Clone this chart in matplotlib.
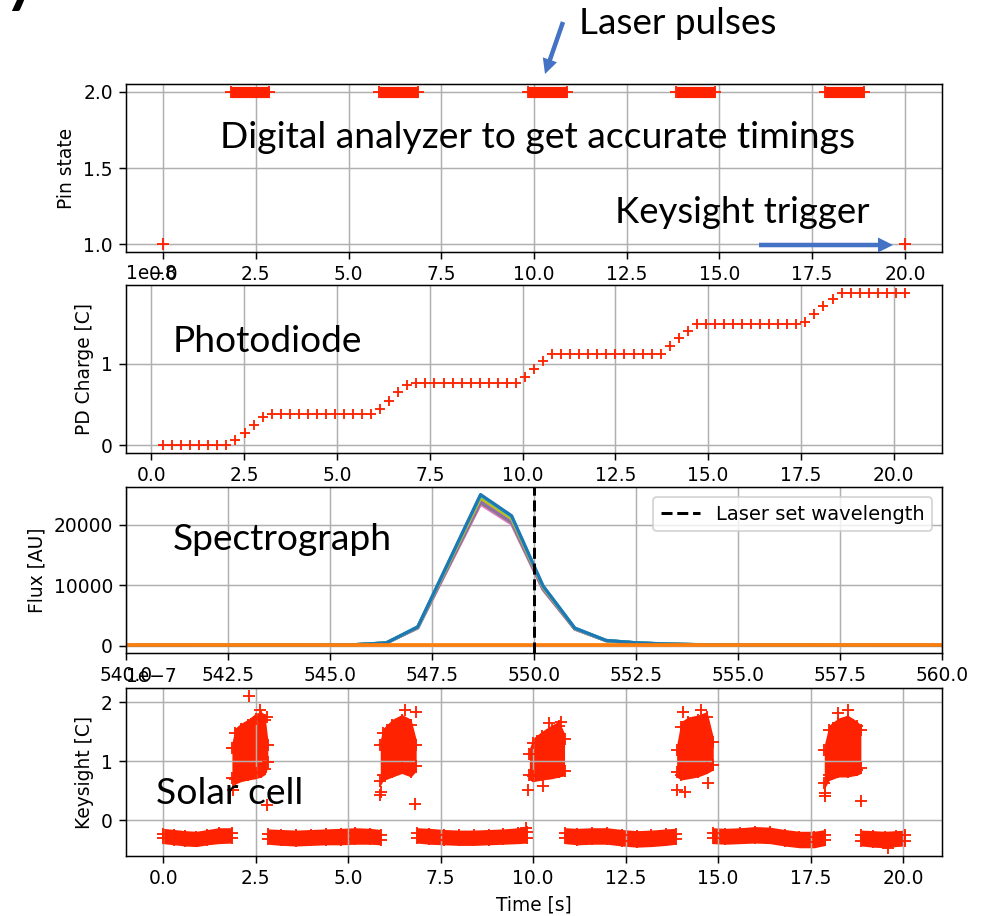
import numpy as np
import matplotlib
matplotlib.use("Agg")
import matplotlib.pyplot as plt
from matplotlib.patches import FancyArrow
from matplotlib.transforms import IdentityTransform

RED = '#ff2200'
ARROW_BLUE = '#4472c4'
W, H, DPI = 986, 916, 134

# ---------------- data ----------------
# digital analyzer
trigger_t = [0.0, 20.0]
trigger_state = [1, 1]
pulse_start = [1.82, 5.82, 9.83, 13.83, 17.85]
pulse_end = [2.85, 6.87, 10.88, 14.89, 18.89]
pulse_state = 2

# photodiode, charge in units of 1e-8 C, regular sampling
pd_t_first, pd_t_last = 0.315, 20.3
pd_charge = [0, 0, 0, 0, 0, 0, 0, 0,
             0.062, 0.156, 0.247, 0.354,
             0.385, 0.385, 0.385, 0.385, 0.385, 0.385, 0.385, 0.385, 0.385, 0.385, 0.385, 0.385,
             0.444, 0.547, 0.65, 0.74,
             0.762, 0.762, 0.762, 0.762, 0.762, 0.762, 0.762, 0.762, 0.762, 0.762, 0.762, 0.762,
             0.835, 0.938, 1.033,
             1.123, 1.123, 1.123, 1.123, 1.123, 1.123, 1.123, 1.123, 1.123, 1.123, 1.123, 1.123, 1.123,
             1.218, 1.32, 1.41,
             1.494, 1.494, 1.494, 1.494, 1.494, 1.494, 1.494, 1.494, 1.494, 1.494, 1.494, 1.494,
             1.522, 1.617, 1.708, 1.80,
             1.877, 1.877, 1.877, 1.877, 1.877, 1.877, 1.877, 1.877]

# spectrograph
wavelength = [540.0, 541.5, 543.1, 544.6, 545.6, 546.38, 547.15, 548.69, 549.45,
              550.22, 551.0, 551.77, 552.54, 553.3, 554.1, 555.6, 557.2, 558.7, 560.0]
flux_shape = [30, 40, 60, 90, 150, 450, 3100, 25000, 21500,
              9900, 2900, 850, 450, 250, 150, 80, 50, 40, 30]
run_peaks = [23400, 23700, 24000, 24400, 24900, 25000]
run_colors = ['tab:pink', 'tab:gray', 'tab:purple', 'tab:olive', 'tab:cyan', 'tab:blue']
dark_flux = [20, 20, 20, 20, 20, 20, 20, 20, 20, 20, 20, 20, 20, 20, 20, 20, 20, 20, 20]
laser_wl = 550.0

# keysight, charge in units of 1e-7 C
base_t = [
    [0.0, 0.3, 0.6, 0.9, 1.2, 1.5, 1.86],
    [2.83, 3.2, 3.6, 4.0, 4.4, 4.8, 5.2, 5.6, 5.88],
    [6.85, 7.2, 7.6, 8.0, 8.4, 8.8, 9.2, 9.6, 9.84],
    [10.86, 11.2, 11.6, 12.0, 12.4, 12.8, 13.2, 13.6, 13.85],
    [14.85, 15.2, 15.6, 16.0, 16.4, 16.8, 17.2, 17.6, 17.9],
    [18.87, 19.2, 19.5, 19.8, 20.05],
]
base_hi = [
    [-0.23, -0.25, -0.27, -0.28, -0.25, -0.22, -0.22],
    [-0.24, -0.25, -0.26, -0.25, -0.24, -0.23, -0.22, -0.23, -0.25],
    [-0.22, -0.23, -0.25, -0.26, -0.26, -0.25, -0.24, -0.22, -0.20],
    [-0.22, -0.23, -0.22, -0.22, -0.25, -0.27, -0.26, -0.24, -0.23],
    [-0.22, -0.23, -0.22, -0.20, -0.21, -0.25, -0.28, -0.28, -0.25],
    [-0.26, -0.27, -0.28, -0.27, -0.26],
]
base_lo = [
    [-0.31, -0.33, -0.35, -0.36, -0.33, -0.31, -0.30],
    [-0.32, -0.34, -0.35, -0.34, -0.33, -0.33, -0.32, -0.32, -0.33],
    [-0.30, -0.32, -0.33, -0.34, -0.34, -0.33, -0.32, -0.31, -0.30],
    [-0.31, -0.33, -0.32, -0.32, -0.35, -0.37, -0.36, -0.34, -0.32],
    [-0.31, -0.32, -0.31, -0.30, -0.31, -0.35, -0.38, -0.38, -0.34],
    [-0.35, -0.37, -0.38, -0.36, -0.35],
]
cloud_t = [
    [1.86, 1.95, 2.1, 2.3, 2.5, 2.65, 2.75, 2.83],
    [5.87, 5.95, 6.2, 6.45, 6.7, 6.84],
    [9.9, 10.0, 10.25, 10.5, 10.7, 10.85],
    [13.88, 14.0, 14.2, 14.45, 14.7, 14.87],
    [17.87, 18.0, 18.25, 18.5, 18.75, 18.86],
]
cloud_lo = [
    [0.72, 0.70, 0.74, 0.77, 0.79, 0.82, 0.86, 0.98],
    [0.67, 0.76, 0.82, 0.88, 0.82, 0.92],
    [0.77, 0.74, 0.77, 0.79, 0.82, 0.84],
    [0.82, 0.77, 0.79, 0.82, 0.88, 0.94],
    [0.62, 0.76, 0.82, 0.82, 0.85, 0.88],
]
cloud_hi = [
    [1.22, 1.47, 1.55, 1.62, 1.72, 1.75, 1.70, 1.28],
    [1.27, 1.47, 1.62, 1.70, 1.62, 1.28],
    [1.12, 1.30, 1.42, 1.52, 1.59, 1.38],
    [1.18, 1.58, 1.66, 1.69, 1.75, 1.32],
    [1.18, 1.52, 1.64, 1.69, 1.59, 1.52],
]
ks_out_t = [2.32, 1.88, 2.8, 2.63, 2.8, 5.85, 5.88, 6.82, 6.55, 6.84, 9.87, 10.27, 10.43,
            10.75, 13.88, 14.11, 14.72, 14.04, 14.55, 17.88, 17.9, 18.86, 18.23, 18.52, 19.6, 9.82]
ks_out_q = [2.11, 0.51, 0.26, 1.86, 1.74, 0.43, 0.48, 0.27, 1.86, 1.83, 0.51, 0.57, 1.65,
            1.67, 0.51, 0.48, 0.62, 1.84, 1.87, 0.40, 0.46, 0.33, 1.82, 1.86, -0.48, -0.14]

# ---------------- figure ----------------
fig = plt.figure(figsize=(W / DPI, H / DPI), dpi=DPI)

def box(top, bottom):
    return [126 / W, 1 - bottom / H, 816 / W, (bottom - top) / H]

ax1 = fig.add_axes(box(84, 252))
ax2 = fig.add_axes(box(285, 453))
ax3 = fig.add_axes(box(487, 653))
ax4 = fig.add_axes(box(688, 856))

# pin state
ax1.plot(trigger_t, trigger_state, '+', color=RED)
for s, e in zip(pulse_start, pulse_end):
    ax1.plot([s, e], [pulse_state, pulse_state], color=RED, lw=6, solid_capstyle='butt')
    ax1.plot([s, e], [pulse_state, pulse_state], '+', color=RED)
ax1.set_yticks([1.0, 1.5, 2.0])
ax1.set_ylabel('Pin state')
ax1.grid(True)

# photodiode
pd_t = np.linspace(pd_t_first, pd_t_last, len(pd_charge))
ax2.plot(pd_t, np.array(pd_charge) * 1e-8, '+', color=RED, ms=5.5)
ax2.set_yticks([0, 1e-8])
ax2.set_ylabel('PD Charge [C]')
ax2.grid(True)

# spectrograph
shape = np.array(flux_shape, dtype=float)
for p, c in zip(run_peaks, run_colors):
    ax3.plot(wavelength, shape * p / shape.max(), color=c, lw=1.7)
ax3.plot(wavelength, dark_flux, color='tab:orange', lw=2)
ax3.axvline(laser_wl, color='k', ls='--', lw=1.6, label='Laser set wavelength')
ax3.set_xlim(540, 560)
ax3.set_yticks([0, 10000, 20000])
ax3.set_ylabel('Flux [AU]')
ax3.legend(loc='upper right', fontsize=10.5)
ax3.grid(True)

# keysight: dense clouds of '+' markers drawn as filled envelopes with marker edges
pad = 0.09  # half height of a marker arm, in 1e-7 C
for t, lo, hi in zip(base_t + cloud_t, base_lo + cloud_lo, base_hi + cloud_hi):
    lo = np.array(lo)
    hi = np.array(hi)
    ax4.fill_between(t, (lo - pad) * 1e-7, (hi + pad) * 1e-7, color=RED, lw=0)
    ax4.plot(t, lo * 1e-7, '+', color=RED)
    ax4.plot(t, hi * 1e-7, '+', color=RED)
ax4.plot(ks_out_t, np.array(ks_out_q) * 1e-7, '+', color=RED, ms=6)
ax4.set_yticks([0, 1e-7, 2e-7])
ax4.set_ylabel('Keysight [C]')
ax4.set_xlabel('Time [s]')
ax4.grid(True)

# ---------------- slide annotations ----------------
notes = [
    ('Laser pulses', 579, 34, 197),
    ('Digital analyzer to get accurate timings', 220, 148, 637),
    ('Keysight trigger', 615, 223, 254),
    ('Photodiode', 173, 352, 190),
    ('Spectrograph', 173, 550, 219),
    ('Solar cell', 156, 804, 147),
]
texts = []
for s, x, y, wt in notes:
    t = fig.text(x / W, 1 - y / H, s, ha='left', va='baseline', fontsize=18,
                 family='Lato', color='black')
    texts.append((t, wt))
title = fig.text(0 / W, 1 + 4 / H, 'ysis', ha='left', va='baseline', fontsize=46,
                 family='Lato', color='black')

fig.canvas.draw()
r = fig.canvas.get_renderer()
for t, wt in texts:
    w = t.get_window_extent(r).width
    t.set_fontsize(t.get_fontsize() * wt / w)

arrow_kw = dict(width=4.5, head_width=15, head_length=15, length_includes_head=True,
                color=ARROW_BLUE, lw=0, transform=IdentityTransform())
fig.add_artist(FancyArrow(563, H - 22, 545 - 563, (H - 74) - (H - 22), **arrow_kw))
fig.add_artist(FancyArrow(759, H - 245, 893 - 759, 0, **arrow_kw))

fig.savefig('out.png', dpi=DPI)
